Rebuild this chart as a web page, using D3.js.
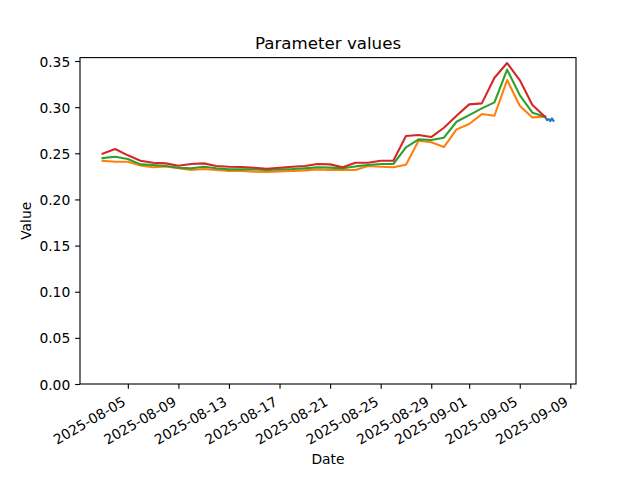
<!DOCTYPE html>
<html>
<head>
<meta charset="utf-8">
<script src="https://cdn.jsdelivr.net/npm/d3@7"></script>
<style>
  html, body { margin: 0; padding: 0; background: #fff; }
  svg { display: block; }
  text { font-family: "DejaVu Sans", sans-serif; fill: #000; }
</style>
</head>
<body>
<svg id="chart" width="640" height="480"></svg>
<script>
// ---- data ----
const dailyStart = "2025-08-03";
const dailyEnd = "2025-09-08"; // exclusive
const seriesOrange = [0.2419,0.2409,0.2409,0.2369,0.2348,0.2358,0.2337,0.2319,0.2329,0.2319,
  0.2308,0.2308,0.2300,0.2297,0.2304,0.2308,0.2315,0.2326,0.2319,0.2319,
  0.2319,0.2362,0.2354,0.2348,0.2376,0.2636,0.2619,0.2568,0.2759,0.2817,
  0.2925,0.2907,0.3294,0.3015,0.2889,0.2896];
const seriesGreen = [0.2449,0.2463,0.2438,0.2380,0.2373,0.2362,0.2343,0.2337,0.2354,0.2337,
  0.2326,0.2326,0.2326,0.2319,0.2326,0.2329,0.2337,0.2348,0.2345,0.2337,
  0.2358,0.2373,0.2384,0.2384,0.2564,0.2651,0.2644,0.2669,0.2842,0.2914,
  0.2987,0.3052,0.3406,0.3131,0.2940,0.2896];
const seriesRed = [0.2495,0.2546,0.2478,0.2419,0.2398,0.2391,0.2365,0.2384,0.2391,0.2362,
  0.2354,0.2351,0.2343,0.2333,0.2343,0.2354,0.2362,0.2384,0.2380,0.2348,
  0.2398,0.2398,0.2419,0.2419,0.2687,0.2698,0.2676,0.2777,0.2907,0.3030,
  0.3041,0.3319,0.3478,0.3294,0.3023,0.2896];
const blueDay = "2025-09-07";
const blueHours = [0, 4, 7, 10, 13, 16];
const seriesBlue = [0.2896, 0.2860, 0.2871, 0.2849, 0.2878, 0.2852];
const yTicks = [0, 0.05, 0.10, 0.15, 0.20, 0.25, 0.30, 0.35];
const xTickLabels = ["2025-08-05","2025-08-09","2025-08-13","2025-08-17","2025-08-21",
  "2025-08-25","2025-08-29","2025-09-01","2025-09-05","2025-09-09"];

// ---- build ----
const dailyDates = d3.utcDay.range(new Date(dailyStart + "T00:00:00Z"), new Date(dailyEnd + "T00:00:00Z"));
const blueDates = blueHours.map(h => d3.utcHour.offset(new Date(blueDay + "T00:00:00Z"), h));
const series = [
  { color: "#1f77b4", pts: blueDates.map((d, i) => ({ d, v: seriesBlue[i] })) },
  { color: "#ff7f0e", pts: dailyDates.map((d, i) => ({ d, v: seriesOrange[i] })) },
  { color: "#2ca02c", pts: dailyDates.map((d, i) => ({ d, v: seriesGreen[i] })) },
  { color: "#d62728", pts: dailyDates.map((d, i) => ({ d, v: seriesRed[i] })) }
];

const W = 640, H = 480;
const L = 80, R = 576, T = 57.6, B = 384;
const allPts = series.flatMap(s => s.pts);
const [dmin, dmax] = d3.extent(allPts, p => p.d);
const span = dmax - dmin;
const x = d3.scaleUtc()
  .domain([new Date(+dmin - 0.05 * span), new Date(+dmax + 0.05 * span)])
  .range([L, R]);
const [vmin, vmax] = d3.extent(allPts, p => p.v);
const y = d3.scaleLinear()
  .domain([0, vmax + 0.05 * (vmax - vmin)])
  .range([B, T]);

const svg = d3.select("#chart");
const fs = 13.89;

// lines
const line = d3.line().x(p => x(p.d)).y(p => y(p.v));
svg.append("g").selectAll("path").data(series).join("path")
  .attr("d", s => line(s.pts))
  .attr("fill", "none")
  .attr("stroke", s => s.color)
  .attr("stroke-width", 2.08)
  .attr("stroke-linejoin", "round")
  .attr("stroke-linecap", "square");

// spines
svg.append("rect")
  .attr("x", L).attr("y", T).attr("width", R - L).attr("height", B - T)
  .attr("fill", "none").attr("stroke", "#000").attr("stroke-width", 1.11);

// y axis
const yAxis = d3.axisLeft(y).tickValues(yTicks).tickFormat(d3.format(".2f"))
  .tickSize(4.86).tickPadding(4.86);
const gy = svg.append("g").attr("transform", `translate(${L},0)`).call(yAxis);
gy.select(".domain").remove();
gy.selectAll(".tick line").attr("stroke", "#000").attr("stroke-width", 1.11);
gy.selectAll(".tick text").attr("font-size", fs).attr("font-family", "DejaVu Sans")
  .attr("fill", "#000").attr("dy", "0.36em");

// x axis
const xTickDates = xTickLabels.map(s => new Date(s + "T00:00:00Z"));
const xAxis = d3.axisBottom(x).tickValues(xTickDates).tickFormat(d3.utcFormat("%Y-%m-%d"))
  .tickSize(4.86).tickPadding(4.86);
const gx = svg.append("g").attr("transform", `translate(0,${B})`).call(xAxis);
gx.select(".domain").remove();
gx.selectAll(".tick line").attr("stroke", "#000").attr("stroke-width", 1.11);
gx.selectAll(".tick text")
  .attr("font-size", fs).attr("font-family", "DejaVu Sans").attr("fill", "#000")
  .attr("text-anchor", "end")
  .attr("y", 0).attr("dy", 0)
  .attr("transform", "translate(-1.6,20.7) rotate(-30)");

// title
svg.append("text").attr("x", (L + R) / 2).attr("y", 49.3)
  .attr("text-anchor", "middle").attr("font-size", 16.67).text("Parameter values");
// x label
svg.append("text").attr("x", (L + R) / 2).attr("y", 464)
  .attr("text-anchor", "middle").attr("font-size", fs).text("Date");
// y label
svg.append("text").attr("transform", `translate(31,${(T + B) / 2}) rotate(-90)`)
  .attr("text-anchor", "middle").attr("font-size", fs).text("Value");
</script>
</body>
</html>
